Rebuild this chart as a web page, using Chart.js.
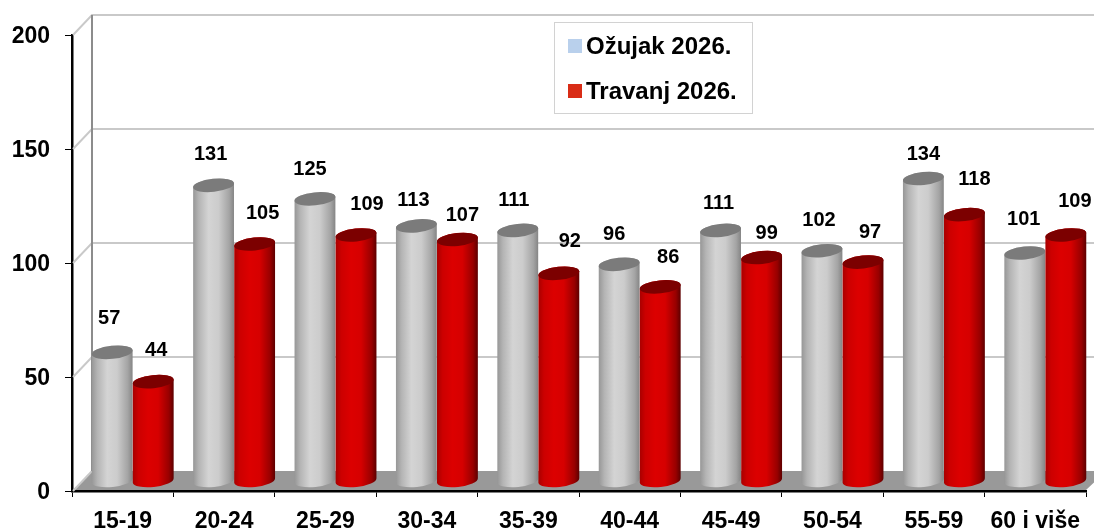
<!DOCTYPE html>
<html lang="hr">
<head>
<meta charset="utf-8">
<title>Ožujak / Travanj 2026.</title>
<script src="https://cdn.jsdelivr.net/npm/chart.js@4"></script>
<style>
  html, body { margin: 0; padding: 0; background: #fff; }
  canvas { display: block; }
</style>
</head>
<body>
<canvas id="grafikon" width="1094" height="530"></canvas>
<script>
const kategorije = ["15-19", "20-24", "25-29", "30-34", "35-39", "40-44", "45-49", "50-54", "55-59", "60 i više"];
const ozujak = [57, 131, 125, 113, 111, 96, 111, 102, 134, 101];
const travanj = [44, 105, 109, 107, 92, 86, 99, 97, 118, 109];
const yOznake = [0, 50, 100, 150, 200];

// pomak natpisa iznad valjka [dx, dy], rucno procitano sa slike
const pomakOzujak = [[-3, -33], [-3, -28], [-5, -27], [-3, -23], [-4, -27], [-5, -28], [-2, -24], [-3, -28], [0, -21], [-1, -31]];
const pomakTravanj = [[3, -30], [8, -28], [11, -28], [5, -22], [11, -30], [8, -27], [5, -22], [7, -27], [10, -32], [9, -31]];

const FONT = '"Liberation Sans", Arial, sans-serif';
const DUBINA = 20;
const SKRACENJE = 0.99; // valjci su malo nizi od skale na prednjoj osi

const boje = [
  {
    stupac: [[0, "#969696"], [0.14, "#b4b4b4"], [0.38, "#d4d4d4"], [0.62, "#cccccc"], [0.88, "#a4a4a4"], [1, "#848484"]],
    vrh: "#7b7b7b"
  },
  {
    stupac: [[0, "#a80000"], [0.14, "#cc0000"], [0.38, "#dc0000"], [0.62, "#d60000"], [0.88, "#980000"], [1, "#5c0000"]],
    vrh: "#7c0000"
  }
];

function valjak(ctx, el, boja) {
  const rx = el.width / 2;
  const ry = 6.5;
  const nagib = -6 * Math.PI / 180;
  const cx = el.x + DUBINA / 2;
  const yDno = el.base - DUBINA / 2;
  const yVrh = yDno - (el.base - el.y) * SKRACENJE;

  const grad = ctx.createLinearGradient(cx - rx, 0, cx + rx, 0);
  boja.stupac.forEach(([pos, c]) => grad.addColorStop(pos, c));

  ctx.beginPath();
  ctx.ellipse(cx, yDno, rx, ry, nagib, 0, Math.PI, false);
  ctx.ellipse(cx, yVrh, rx, ry, nagib, Math.PI, 2 * Math.PI, false);
  ctx.closePath();
  ctx.fillStyle = grad;
  ctx.fill();

  ctx.beginPath();
  ctx.ellipse(cx, yVrh, rx, ry, nagib, 0, 2 * Math.PI);
  ctx.fillStyle = boja.vrh;
  ctx.fill();
}

// Straznji zid, pod i valjci umjesto ravnih stupaca
const prostor3d = {
  id: "prostor3d",
  beforeDatasetsDraw(chart) {
    const ctx = chart.ctx;
    const { left, right, bottom } = chart.chartArea;
    const y = chart.scales.y;
    const y0 = y.getPixelForValue(0);

    ctx.save();

    // pod
    ctx.beginPath();
    ctx.moveTo(left + 1, y0 - 1);
    ctx.lineTo(left + DUBINA, y0 - DUBINA);
    ctx.lineTo(right + DUBINA, y0 - DUBINA);
    ctx.lineTo(right, y0 - 1);
    ctx.closePath();
    ctx.fillStyle = "#999999";
    ctx.fill();

    // mreza na zidu i na lijevoj strani
    ctx.lineWidth = 2;
    yOznake.forEach(v => {
      const py = y.getPixelForValue(v);
      ctx.strokeStyle = "#c9c9c9";
      ctx.beginPath();
      ctx.moveTo(left + 1, py);
      ctx.lineTo(left + DUBINA, py - DUBINA);
      if (v > 0) ctx.lineTo(right + DUBINA, py - DUBINA);
      ctx.stroke();
    });

    // stup zida
    ctx.strokeStyle = "#8c8c8c";
    ctx.beginPath();
    ctx.moveTo(left + DUBINA, y.getPixelForValue(200) - DUBINA);
    ctx.lineTo(left + DUBINA, bottom - DUBINA);
    ctx.stroke();

    // legenda ide ispod valjaka i natpisa
    legenda(chart);

    chart.data.labels.forEach((_, i) => {
      chart.data.datasets.forEach((ds, d) => {
        valjak(ctx, chart.getDatasetMeta(d).data[i], boje[d]);
      });
    });

    // natpisi vrijednosti
    ctx.font = "bold 20px " + FONT;
    ctx.fillStyle = "#000";
    ctx.textAlign = "center";
    ctx.textBaseline = "middle";
    chart.data.datasets.forEach((ds, d) => {
      const pomaci = d === 0 ? pomakOzujak : pomakTravanj;
      chart.getDatasetMeta(d).data.forEach((el, i) => {
        const [dx, dy] = pomaci[i];
        ctx.fillText(ds.data[i], el.x + DUBINA / 2 + dx, el.y - DUBINA / 2 + dy);
      });
    });

    ctx.restore();
    return false;
  }
};

function legenda(chart) {
  const ctx = chart.ctx;
  ctx.fillStyle = "#fff";
  ctx.strokeStyle = "#d2d2d2";
  ctx.lineWidth = 1;
  ctx.fillRect(554.5, 22.5, 198, 91);
  ctx.strokeRect(554.5, 22.5, 198, 91);

  ctx.font = "bold 24px " + FONT;
  ctx.textAlign = "left";
  ctx.textBaseline = "middle";
  chart.data.datasets.forEach((ds, d) => {
    const py = 46 + d * 45;
    ctx.fillStyle = ds.backgroundColor;
    ctx.fillRect(568, py - 7, 14, 14);
    ctx.fillStyle = "#000";
    ctx.fillText(ds.label, 586, py + 1);
  });
}

new Chart(document.getElementById("grafikon"), {
  type: "bar",
  data: {
    labels: kategorije,
    datasets: [
      { label: "Ožujak 2026.", data: ozujak, backgroundColor: "#b9d0ec" },
      { label: "Travanj 2026.", data: travanj, backgroundColor: "#d92c16" }
    ]
  },
  plugins: [prostor3d],
  options: {
    responsive: false,
    animation: false,
    layout: { padding: { top: 35, right: 8, left: 0, bottom: 0 } },
    datasets: { bar: { categoryPercentage: 0.81, barPercentage: 1 } },
    plugins: {
      legend: { display: false },
      tooltip: { enabled: false },
      title: { display: false }
    },
    scales: {
      x: {
        afterFit: s => { s.height = 39; },
        border: { color: "#000", width: 2.5 },
        grid: { drawOnChartArea: false, color: "#000", tickLength: 6, lineWidth: 1 },
        ticks: {
          color: "#000",
          font: { family: FONT, weight: "bold", size: 23 },
          padding: 11,
          maxRotation: 0,
          autoSkip: false
        }
      },
      y: {
        min: 0,
        max: 200,
        afterFit: s => { s.width = 72; },
        border: { color: "#000", width: 2.5 },
        grid: { drawOnChartArea: false, color: "#000", tickLength: 7, lineWidth: 1 },
        ticks: {
          stepSize: 50,
          color: "#000",
          font: { family: FONT, weight: "bold", size: 23 },
          padding: 15,
          labelOffset: 2
        }
      }
    }
  }
});
</script>
</body>
</html>
